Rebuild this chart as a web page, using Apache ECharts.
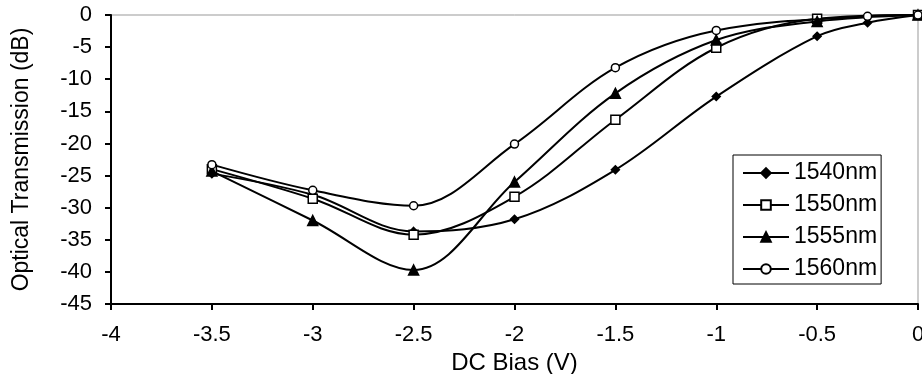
<!DOCTYPE html>
<html>
<head>
<meta charset="utf-8">
<script src="https://cdn.jsdelivr.net/npm/echarts@6/dist/echarts.min.js"></script>
<style>
html,body{margin:0;padding:0;background:#fff;}
#chart{width:922px;height:374px;}
</style>
</head>
<body>
<div id="chart"></div>
<script>
// DC bias (V) and optical transmission (dB) for each wavelength
const bias1540 = [-3.5, -3, -2.5, -2, -1.5, -1, -0.5, -0.25, 0];
const trans1540 = [-24.7, -28.0, -33.7, -31.8, -24.1, -12.7, -3.3, -1.2, 0];

const bias1550 = [-3.5, -3, -2.5, -2, -1.5, -1, -0.5, 0];
const trans1550 = [-24.0, -28.6, -34.2, -28.3, -16.3, -5.1, -0.6, 0];

const bias1555 = [-3.5, -3, -2.5, -2, -1.5, -1, -0.5, 0];
const trans1555 = [-24.3, -32.0, -39.7, -26.0, -12.2, -3.9, -1.0, 0];

const bias1560 = [-3.5, -3, -2.5, -2, -1.5, -1, -0.25, 0];
const trans1560 = [-23.3, -27.3, -29.7, -20.1, -8.2, -2.4, -0.2, 0];

const seriesNames = ['1540nm', '1550nm', '1555nm', '1560nm'];
const xTicks = [-4, -3.5, -3, -2.5, -2, -1.5, -1, -0.5, 0];
const yTicks = [-45, -40, -35, -30, -25, -20, -15, -10, -5, 0];

const xTitle = 'DC Bias (V)';
const yTitle = 'Optical Transmission (dB)';

function pairs(xs, ys) { return xs.map((x, i) => [x, ys[i]]); }

const FONT = 'Liberation Sans';
const chart = echarts.init(document.getElementById('chart'), null, {renderer: 'canvas'});

const markers = [
  {symbol: 'diamond', size: 8, fill: '#000'},
  {symbol: 'rect', size: 9, fill: '#fff'},
  {symbol: 'triangle', size: 10, fill: '#000'},
  {symbol: 'circle', size: 8, fill: '#fff'}
];
const dataSets = [
  pairs(bias1540, trans1540),
  pairs(bias1550, trans1550),
  pairs(bias1555, trans1555),
  pairs(bias1560, trans1560)
];

chart.setOption({
  animation: false,
  backgroundColor: '#fff',
  grid: {left: 111, right: 4, top: 15, bottom: 70, show: true, borderColor: '#999', borderWidth: 1,
    backgroundColor: '#fff', containLabel: false, outerBoundsMode: 'none'},
  xAxis: {
    type: 'value', min: xTicks[0], max: xTicks[xTicks.length - 1], interval: 0.5,
    name: xTitle, nameLocation: 'middle', nameGap: 43,
    nameTextStyle: {fontFamily: FONT, fontSize: 24, color: '#000'},
    axisLine: {show: true, onZero: false, lineStyle: {color: '#000', width: 2}},
    axisTick: {show: true, inside: false, length: 6, lineStyle: {color: '#000', width: 2}},
    axisLabel: {fontFamily: FONT, fontSize: 22, color: '#000', margin: 20,
      formatter: v => String(v)},
    splitLine: {show: false}
  },
  yAxis: {
    type: 'value', min: yTicks[0], max: yTicks[yTicks.length - 1], interval: 5,
    name: yTitle, nameLocation: 'middle', nameGap: 78, nameRotate: 90,
    nameTextStyle: {fontFamily: FONT, fontSize: 23, color: '#000'},
    axisLine: {show: true, onZero: false, lineStyle: {color: '#000', width: 2}},
    axisTick: {show: true, inside: false, length: 6, lineStyle: {color: '#000', width: 2}},
    axisLabel: {fontFamily: FONT, fontSize: 22, color: '#000', margin: 19},
    splitLine: {show: false}
  },
  legend: {
    orient: 'vertical', left: 733, top: 155,
    backgroundColor: '#fff', borderColor: '#000', borderWidth: 1,
    padding: [6, 4, 3, 9],
    itemWidth: 46, itemHeight: 12, itemGap: 8,
    textStyle: {fontFamily: FONT, fontSize: 23, color: '#000', lineHeight: 24},
    data: seriesNames
  },
  series: dataSets.map((d, i) => ({
    name: seriesNames[i],
    type: 'line',
    data: d,
    smooth: 0.35,
    symbol: markers[i].symbol,
    symbolSize: markers[i].size,
    showAllSymbol: true,
    lineStyle: {color: '#000', width: 2},
    itemStyle: {color: markers[i].fill, borderColor: '#000', borderWidth: 1.5},
    emphasis: {disabled: true},
    z: 2 + i
  }))
});
</script>
</body>
</html>
